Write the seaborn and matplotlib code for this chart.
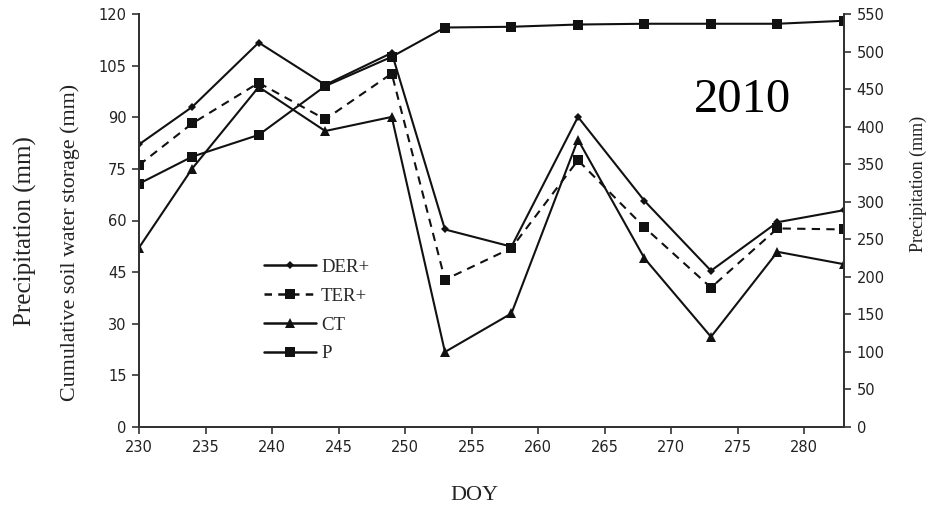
import matplotlib
matplotlib.use("Agg")
import matplotlib.pyplot as plt
import seaborn as sns
import pandas as pd
from matplotlib.lines import Line2D

doy = [230, 234, 239, 244, 249, 253, 258, 263, 268, 273, 278, 283]
der = [82.1, 93.0, 111.7, 99.4, 108.7, 57.4, 52.4, 90.1, 65.7, 45.4, 59.5, 63.0]
ter = [76.1, 88.2, 100.0, 89.4, 102.7, 42.8, 52.0, 77.5, 58.0, 40.5, 57.7, 57.4]
ct = [52.1, 75.1, 98.8, 86.0, 90.1, 21.8, 33.0, 83.5, 49.0, 26.2, 50.9, 47.3]
precip = [324, 360, 389, 454, 493, 532, 533, 536, 537, 537, 537, 541]

series_names = ["DER+", "TER+", "CT", "P"]

sns.set_theme(style="white")
plt.rcParams["font.family"] = ["DejaVu Sans"]

fig = plt.figure(figsize=(9.4, 5.08), dpi=100)
ax = fig.add_axes([139 / 940, 1 - 427 / 508, (844 - 139) / 940, (427 - 14) / 508])
ax2 = ax.twinx()

col = "#111111"
df = pd.DataFrame({"doy": doy, "der": der, "ter": ter, "ct": ct, "p": precip})

sns.lineplot(data=df, x="doy", y="der", ax=ax, color=col, lw=1.5, marker="D",
             markersize=4.5, markeredgewidth=0, legend=False)
sns.lineplot(data=df, x="doy", y="ter", ax=ax, color=col, lw=1.5, marker="s",
             markersize=7.5, markeredgewidth=0, legend=False, linestyle=(0, (4, 3)))
sns.lineplot(data=df, x="doy", y="ct", ax=ax, color=col, lw=1.5, marker="^",
             markersize=6.5, markeredgewidth=0, legend=False)
sns.lineplot(data=df, x="doy", y="p", ax=ax2, color=col, lw=1.5, marker="s",
             markersize=7.5, markeredgewidth=0, legend=False)

ax.set_xlim(230, 283)
ax.set_ylim(0, 120)
ax2.set_ylim(0, 550)
ax.set_xticks(range(230, 281, 5))
ax.set_yticks(range(0, 121, 15))
ax2.set_yticks(range(0, 551, 50))

spc = "#333333"
for a in (ax, ax2):
    for s in ("left", "bottom", "right"):
        a.spines[s].set_visible(True)
        a.spines[s].set_color(spc)
        a.spines[s].set_linewidth(1.4)
    a.spines["top"].set_visible(False)
    a.tick_params(direction="out", length=5, width=1.2, color=spc,
                  labelsize=10.5, labelcolor="#222222", pad=4)
    a.grid(False)
ax.tick_params(axis="y", left=True, right=False)
ax.tick_params(axis="x", bottom=True)
ax2.tick_params(axis="y", right=True, left=False)
ax.set_xlabel("")
ax.set_ylabel("")
ax2.set_ylabel("")

serif = ["Liberation Serif", "DejaVu Serif"]
fig.text(25 / 940, 1 - 231 / 508, "Precipitation (mm)", rotation=90, ha="center",
         va="center", fontsize=18, family=serif, color="#222222")
fig.text(70 / 940, 1 - 242 / 508, "Cumulative soil water storage (mm)", rotation=90,
         ha="center", va="center", fontsize=15.8, family=serif, color="#222222")
fig.text(918 / 940, 1 - 184 / 508, "Precipitation (mm)", rotation=90, ha="center",
         va="center", fontsize=13, family=serif, color="#222222")
fig.text(474 / 940, 1 - 496 / 508, "DOY", ha="center", va="center", fontsize=16,
         family=serif, color="#222222")
fig.text(512 / 940, 1 - 3 / 508, "DOY", ha="center", va="bottom", fontsize=16,
         family=serif, color="#222222")
fig.text(743 / 940, 1 - 100 / 508, "2010", ha="center", va="center", fontsize=35,
         family=serif, color="black")

handles = [
    Line2D([], [], color=col, lw=1.8, marker="D", markersize=4.5, markeredgewidth=0),
    Line2D([], [], color=col, lw=1.8, marker="s", markersize=7.5, markeredgewidth=0,
           linestyle=(0, (3, 2.5))),
    Line2D([], [], color=col, lw=1.8, marker="^", markersize=6.5, markeredgewidth=0),
    Line2D([], [], color=col, lw=1.8, marker="s", markersize=7.5, markeredgewidth=0),
]
leg = ax.legend(handles, series_names, loc="upper left",
                bbox_to_anchor=((247 - 139) / 705, (427 - 242) / 413),
                frameon=False, handlelength=2.8, handletextpad=0.25,
                labelspacing=0.62, prop={"family": serif, "size": 13.5})

fig.savefig("out.png", dpi=100)
